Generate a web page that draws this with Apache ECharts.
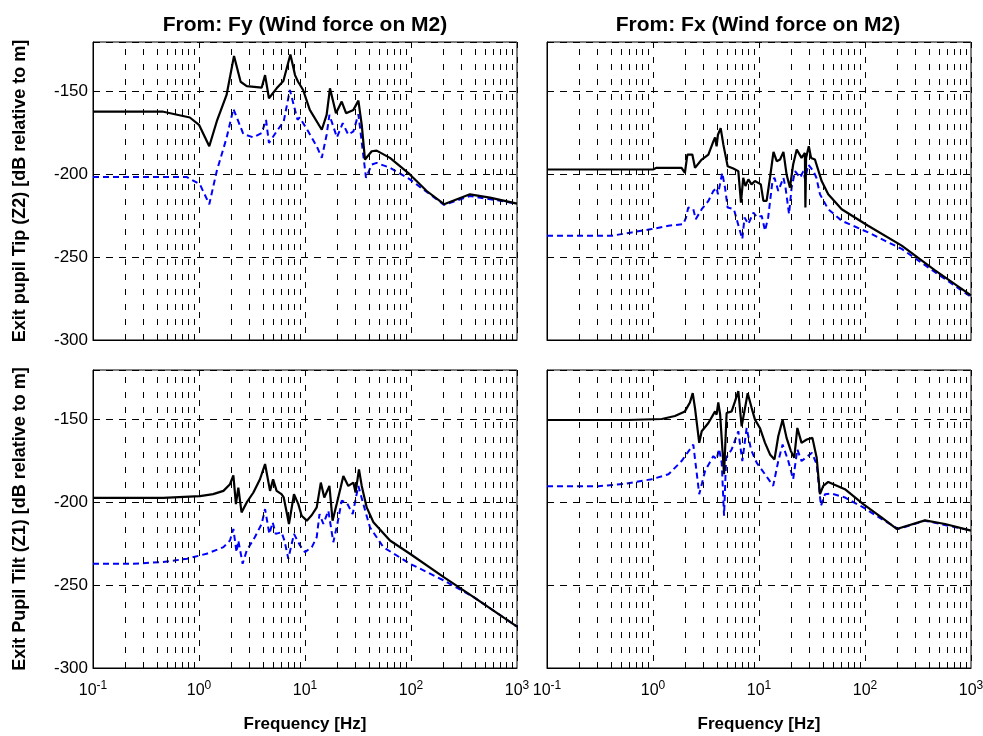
<!DOCTYPE html>
<html>
<head>
<meta charset="utf-8">
<script src="https://cdn.jsdelivr.net/npm/echarts@6/dist/echarts.min.js"></script>
<style>
  html, body { margin: 0; padding: 0; background: #fff; }
  #chart { width: 983px; height: 736px; }
</style>
</head>
<body>
<div id="chart"></div>
<script>
// frequency [Hz], magnitude [dB]
const tipFySolid = [
  [0.1, -162], [0.45, -162], [0.82, -165.6], [1.0, -170], [1.25, -183], [1.47, -168], [1.82, -152],
  [2.14, -128.4], [2.47, -144], [2.82, -146.6], [3.9, -147.6], [4.2, -140], [4.57, -154],
  [5.4, -148], [6.25, -143.6], [7.28, -127.6], [8.05, -140], [8.6, -144], [8.85, -143],
  [9.6, -149], [11.1, -161], [14.4, -173], [16, -164], [17.2, -148], [19.6, -163],
  [22.2, -156], [24.4, -163], [28.6, -161], [31.9, -155.4], [34.3, -170], [36.8, -191],
  [42.6, -186], [47.4, -185.6], [63.3, -190], [97.7, -200], [140.6, -210], [205, -218],
  [360, -212], [556, -214], [1000, -217.6]
];
const tipFyDashed = [
  [0.1, -201.6], [0.77, -201.6], [1.02, -206], [1.25, -218], [1.47, -198], [1.82, -178],
  [2.11, -160.4], [2.62, -175.6], [3.26, -177.6], [3.9, -175], [4.29, -167], [4.57, -181],
  [5.4, -174], [6.3, -168], [7.2, -149], [8.5, -167], [8.9, -165.6], [10.5, -173],
  [12.9, -183], [14.4, -190], [16, -176], [17, -164], [20, -177.6], [22.7, -169],
  [25.6, -176], [28.6, -174], [31.9, -163.6], [37.6, -202], [42.6, -194], [47.4, -193],
  [63.3, -196], [97.7, -203], [205, -218.4], [360, -213], [1000, -217.6]
];
const tipFxSolid = [
  [0.1, -197], [1.0, -197], [1.08, -196], [1.86, -196], [2.0, -199], [2.11, -188],
  [2.35, -188], [2.49, -196], [2.88, -191], [3.33, -188], [3.71, -180], [3.85, -177.6],
  [3.98, -183], [4.1, -176], [4.35, -172], [4.61, -182], [5.06, -195], [5.72, -196.4],
  [6.38, -198], [6.76, -217], [7.1, -202], [7.45, -207], [7.94, -203], [8.5, -206],
  [9.16, -204], [10.4, -206], [11, -216], [11.8, -216], [12.7, -202], [13.7, -186.4],
  [14.7, -192], [15.8, -191], [17, -186.4], [18.2, -200], [19.6, -208], [21, -194],
  [22.7, -185], [25.2, -190], [27.1, -187], [27.4, -220], [27.8, -190], [29.5, -183],
  [31, -190], [33.7, -191], [39, -204], [45, -212], [60.3, -221], [107, -231],
  [222, -243], [458, -258], [1000, -273]
];
const tipFxDashed = [
  [0.1, -237], [0.41, -237], [0.63, -235], [0.97, -233], [1.4, -231], [1.93, -230],
  [2.05, -226], [2.15, -220], [2.4, -221], [2.53, -227], [2.88, -221], [3.33, -216],
  [3.71, -210], [3.98, -208], [4.1, -212], [4.5, -199], [4.78, -208], [5.06, -220],
  [5.8, -221], [6.47, -232], [6.96, -239], [7.3, -226], [7.94, -230], [8.85, -223],
  [9.6, -226], [10.6, -225], [11.4, -234], [12.2, -226], [13.4, -204], [14, -202],
  [15.2, -210], [17, -202], [17.8, -208], [19.2, -224], [20.3, -208], [21.9, -198],
  [24.4, -202], [26.2, -198], [27.2, -203], [29.2, -194], [32.6, -198], [34.8, -202],
  [37.6, -212], [45, -221], [60.3, -228], [107, -235], [222, -245], [458, -259], [1000, -274]
];
const tiltFySolid = [
  [0.1, -197.2], [0.46, -197.2], [1.02, -196.2], [1.36, -195], [1.7, -193], [1.96, -189],
  [2.11, -183.6], [2.23, -201], [2.35, -191], [2.52, -206], [2.82, -200], [3.26, -194],
  [3.76, -186], [4.2, -176.8], [4.68, -193], [5.0, -186], [5.4, -193], [6.0, -195],
  [6.3, -197], [7.06, -213], [7.87, -195], [8.65, -201], [9.3, -208], [10.4, -211],
  [11.6, -207.6], [12.9, -203], [14.1, -188], [15.2, -197], [17, -190], [18.2, -211],
  [19.9, -201], [21.7, -191], [23, -184], [25.6, -190], [28.6, -188], [30, -194],
  [32.3, -180], [34.3, -190], [38.2, -203], [44.2, -212], [63.3, -223], [97.7, -231],
  [202, -245], [387, -257], [1000, -275]
];
const tiltFyDashed = [
  [0.1, -237], [0.24, -237], [0.46, -236], [0.77, -234], [1.18, -231], [1.7, -227],
  [1.96, -223], [2.11, -216], [2.26, -230], [2.35, -223], [2.58, -237], [2.82, -229],
  [3.36, -221], [3.9, -213], [4.2, -204], [4.61, -219], [4.95, -212], [5.3, -219],
  [6.0, -218], [6.4, -223], [6.96, -234], [7.87, -219], [8.98, -226], [10, -230],
  [11.6, -227], [12.9, -221], [13.7, -207], [14.9, -213], [16.6, -205], [18.5, -224],
  [20.2, -213], [22.2, -199], [24.7, -200], [28.2, -207], [30.7, -195], [31.9, -190],
  [35.5, -201], [41, -215], [54.8, -227], [97.7, -237], [202, -247], [387, -257], [1000, -275]
];
const tiltFxSolid = [
  [0.1, -150.2], [0.58, -150.2], [1.21, -149.6], [1.61, -147.8], [2.0, -145], [2.23, -139.6],
  [2.37, -134], [2.49, -143], [2.73, -164], [2.88, -157], [3.33, -152], [3.85, -145],
  [3.98, -147], [4.13, -139.6], [4.3, -147], [4.68, -183], [4.95, -146], [5.52, -145],
  [5.94, -139], [6.38, -132.8], [6.86, -154], [7.38, -143], [7.82, -134], [8.53, -143],
  [9.16, -150], [10.2, -155], [11.4, -164], [12.7, -171], [14, -174], [15.2, -160],
  [16.7, -150], [18.2, -161], [20, -169], [21.5, -173], [23, -155], [25.2, -164],
  [28.2, -162], [31.9, -161], [35, -173], [37.6, -195], [40.4, -190], [45, -187.6],
  [64.6, -192], [96.3, -201], [143, -209], [199, -216], [368, -210.8], [569, -213], [1000, -217]
];
const tiltFxDashed = [
  [0.1, -190.2], [0.305, -190.2], [0.54, -188.8], [0.97, -186], [1.4, -183], [1.86, -175],
  [2.4, -165], [2.73, -195], [3.1, -181], [3.71, -172], [3.98, -174], [4.2, -167.6],
  [4.45, -176], [4.68, -208], [4.9, -173], [5.52, -168], [6.38, -157], [6.96, -175],
  [7.65, -155], [8.4, -168], [9.5, -176], [11.4, -183], [13.6, -190], [15.2, -175],
  [16.7, -165], [18.9, -175], [21, -186], [23, -168], [25.2, -175], [31.6, -170],
  [35, -177], [38.4, -202], [42, -195], [48.5, -194.6], [64.6, -197], [96.3, -203],
  [143, -210], [206, -216], [368, -211], [1000, -217]
];

const titles = ['From: Fy (Wind force on M2)', 'From: Fx (Wind force on M2)'];
const rowNames = ['Exit pupil Tip (Z2) [dB relative to m]', 'Exit Pupil Tilt (Z1) [dB relative to m]'];
const xName = 'Frequency [Hz]';
const minorFreqs = [];
[0.1, 1, 10, 100].forEach(d => { for (let k = 2; k <= 9; k++) minorFreqs.push(+(d * k).toPrecision(3)); });

const panels = [
  { solid: tipFySolid, dashed: tipFyDashed, left: 93, top: 42, row: 0, col: 0 },
  { solid: tipFxSolid, dashed: tipFxDashed, left: 547, top: 42, row: 0, col: 1 },
  { solid: tiltFySolid, dashed: tiltFyDashed, left: 93, top: 370, row: 1, col: 0 },
  { solid: tiltFxSolid, dashed: tiltFxDashed, left: 547, top: 370, row: 1, col: 1 }
];

const FONT = '"Liberation Sans", Arial, sans-serif';
const chart = echarts.init(document.getElementById('chart'), null, { renderer: 'canvas' });

const grid = [], xAxis = [], yAxis = [], series = [];
panels.forEach((p, i) => {
  grid.push({
    left: p.left, top: p.top, width: 424, height: 298, outerBoundsMode: 'none', containLabel: false,
    show: true, borderColor: '#000', borderWidth: 1, backgroundColor: 'transparent'
  });
  xAxis.push({
    type: 'log', logBase: 10, min: 0.1, max: 1000, gridIndex: i,
    name: p.row === 1 ? xName : '',
    nameLocation: 'middle', nameGap: 48,
    nameTextStyle: { fontFamily: FONT, fontSize: 17, fontWeight: 'bold', color: '#000' },
    axisLine: { lineStyle: { color: '#000', width: 1 } },
    axisTick: { show: false },
    splitLine: { show: true, lineStyle: { color: '#000', width: 1, type: [6, 9] } },
    axisLabel: {
      show: p.row === 1, color: '#000', margin: 12,
      formatter: v => '{b|10}{s|' + Math.round(Math.log10(v)) + '}',
      rich: {
        b: { fontFamily: FONT, fontSize: 16, color: '#000' },
        s: { fontFamily: FONT, fontSize: 12, color: '#000', padding: [0, 0, 10, 0] }
      }
    }
  });
  yAxis.push({
    type: 'value', min: -300, max: -120, interval: 50, gridIndex: i,
    name: p.col === 0 ? rowNames[p.row] : '',
    nameLocation: 'middle', nameGap: 64,
    nameTextStyle: { fontFamily: FONT, fontSize: 18, fontWeight: 'bold', color: '#000' },
    axisLine: { lineStyle: { color: '#000', width: 1 } },
    axisTick: { show: true, inside: true, length: 5, lineStyle: { color: '#000' } },
    splitLine: { show: true, lineStyle: { color: '#000', width: 1, type: [7, 6] } },
    axisLabel: {
      show: p.col === 0, color: '#000', fontFamily: FONT, fontSize: 17, margin: 5,
      formatter: v => (v === -120 ? '' : String(v))
    }
  });
  series.push({
    type: 'line', xAxisIndex: i, yAxisIndex: i, data: [], silent: true,
    markLine: {
      silent: true, symbol: 'none', animation: false,
      label: { show: false },
      lineStyle: { color: '#000', width: 1, type: [6, 9] },
      data: minorFreqs.map(f => ({ xAxis: f }))
    }
  });
  series.push({
    name: 'dashed', type: 'line', xAxisIndex: i, yAxisIndex: i, data: p.dashed,
    showSymbol: false, symbol: 'none', animation: false,
    lineStyle: { color: '#0000ff', width: 2, type: [6, 4] }
  });
  series.push({
    name: 'solid', type: 'line', xAxisIndex: i, yAxisIndex: i, data: p.solid,
    showSymbol: false, symbol: 'none', animation: false,
    lineStyle: { color: '#000', width: 2.2 }
  });
});

chart.setOption({
  animation: false,
  backgroundColor: '#fff',
  title: titles.map((t, c) => ({
    text: t, left: c === 0 ? 300 : 753, top: 10, textAlign: 'center',
    textStyle: { fontFamily: FONT, fontSize: 21, fontWeight: 'bold', color: '#000' }
  })),
  grid, xAxis, yAxis, series
});
</script>
</body>
</html>
